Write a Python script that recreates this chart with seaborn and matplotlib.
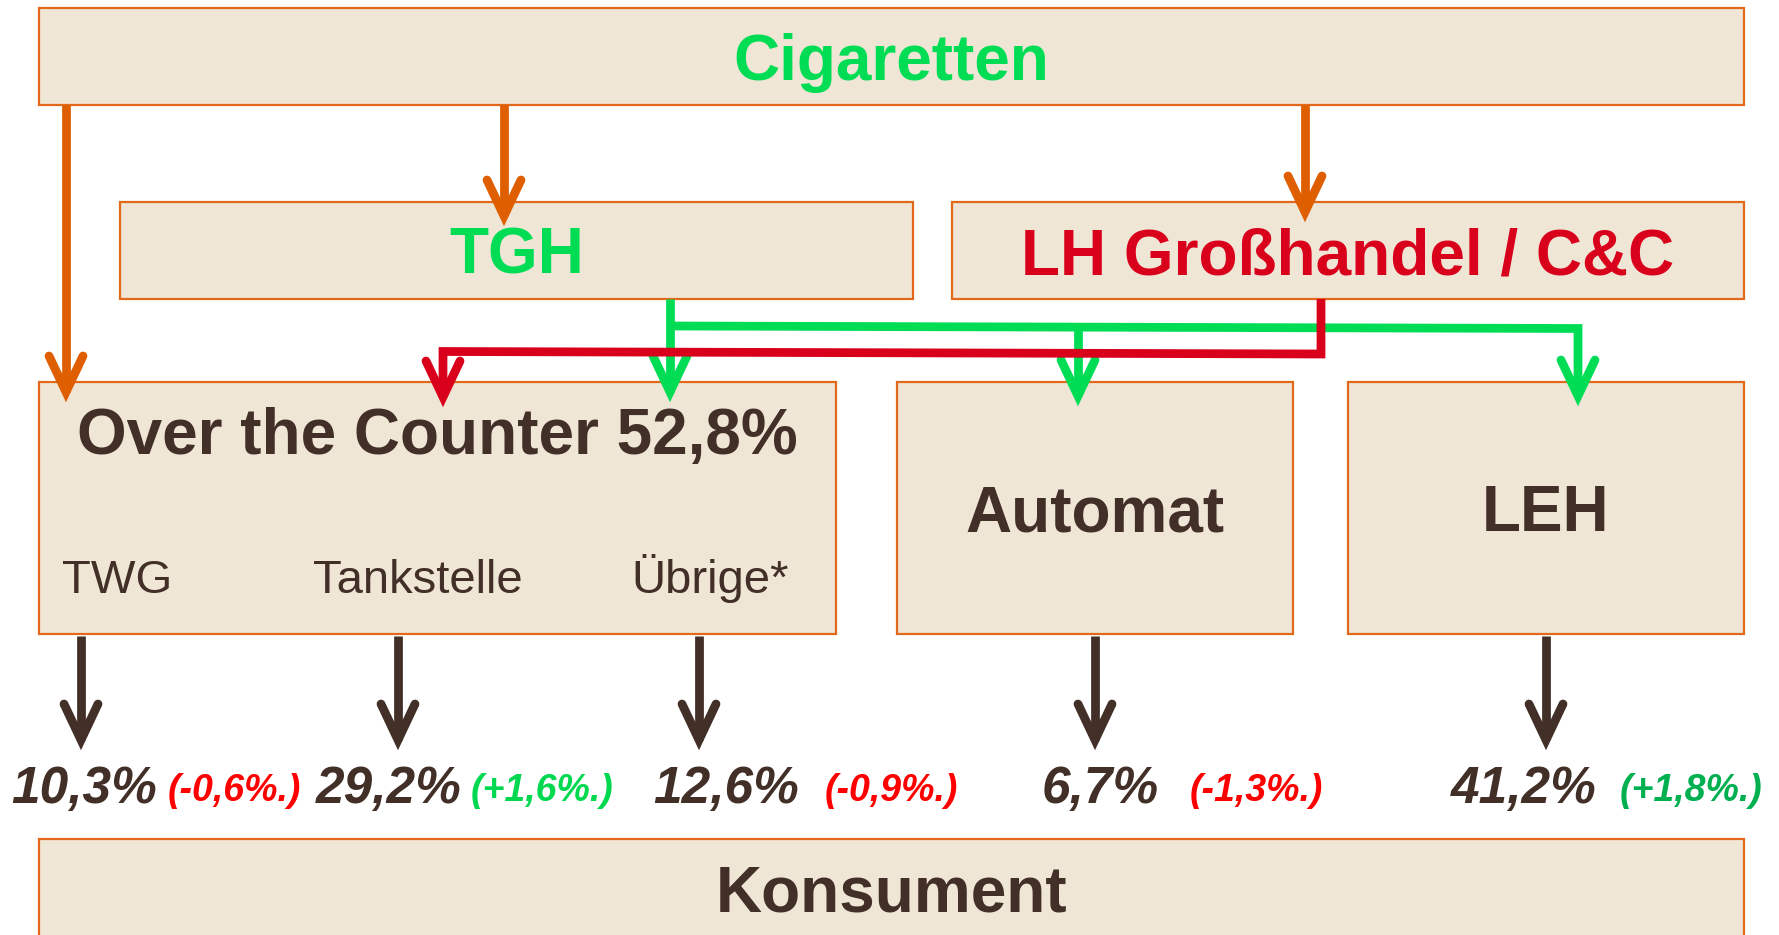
import numpy as np
import pandas as pd
import seaborn as sns
import matplotlib.pyplot as plt
from matplotlib.patches import Rectangle
from matplotlib import font_manager

# data
top_node = "Cigaretten"
wholesalers = ["TGH", "LH Großhandel / C&C"]
channels = ["Over the Counter", "Automat", "LEH"]
otc_share = 52.8
otc_subchannels = ["TWG", "Tankstelle", "Übrige*"]
end_node = "Konsument"
outlets = ["TWG", "Tankstelle", "Übrige*", "Automat", "LEH"]
shares = [10.3, 29.2, 12.6, 6.7, 41.2]
changes = [-0.6, 1.6, -0.9, -1.3, 1.8]

# colours
BOX_FC = "#F0E6D6"
BOX_EC = "#E2681A"
ORANGE = "#DF5E00"
GREEN = "#00DD55"
RED = "#D9001B"
BROWN = "#422F28"
change_colors = ["#FF0000", "#00D84F", "#FF0000", "#FF0000", "#00B050"]

def de(v, fmt="{:.1f}"):
    return fmt.format(v).replace(".", ",")

sns.set_theme(style="white")
plt.rcParams['font.family'] = ['Liberation Sans', 'DejaVu Sans']

# narrow face for the change labels if it is there
installed = {f.name for f in font_manager.fontManager.ttflist}
if "Liberation Sans Narrow" in installed:
    change_font = dict(family=["Liberation Sans Narrow", "Liberation Sans"], fontsize=30)
else:
    change_font = dict(family=["Liberation Sans", "DejaVu Sans"], fontsize=27)

fig = plt.figure(figsize=(17.79, 9.35), dpi=100)
ax = fig.add_axes([0, 0, 1, 1])
ax.set_xlim(0, 1779)
ax.set_ylim(935, 0)
ax.axis("off")

# boxes: x0, y0, x1, y1 in pixel space
boxes = {
    "top": (39, 8, 1744, 105),
    "TGH": (120, 202, 913, 299),
    "LH": (952, 202, 1744, 299),
    "OTC": (39, 382, 836, 634),
    "Automat": (897, 382, 1293, 634),
    "LEH": (1348, 382, 1744, 634),
    "end": (39, 839, 1744, 960),
}
for b in boxes.values():
    ax.add_patch(Rectangle((b[0], b[1]), b[2] - b[0], b[3] - b[1],
                           fc=BOX_FC, ec=BOX_EC, lw=1.6, zorder=1))

def cx(key):
    b = boxes[key]
    return (b[0] + b[2]) / 2

big = dict(fontsize=46, fontweight="bold", ha="center", va="baseline", zorder=5)
ax.text(cx("top"), 80, top_node, color=GREEN, **big)
ax.text(cx("TGH"), 274, wholesalers[0], color=GREEN, **big)
ax.text(cx("LH"), 274, wholesalers[1], color=RED, **big)
ax.text(cx("OTC"), 454, f"{channels[0]} {de(otc_share)}%", color=BROWN, **big)
ax.text(cx("Automat"), 531, channels[1], color=BROWN, **big)
ax.text(cx("LEH"), 531, channels[2], color=BROWN, **big)
ax.text(cx("end"), 911, end_node, color=BROWN, **big)

sub_x = [62, 313, 631]
for lab, x in zip(otc_subchannels, sub_x):
    ax.text(x, 593, lab, fontsize=34, color=BROWN, ha="left", va="baseline", zorder=5)

# connectors
LW = 6.3

def path(pts, color, head=True, z=3):
    pts = np.array(pts, dtype=float)
    if head:
        x, y = pts[-1]
        pts[-1] = (x, y - 8)
    ax.plot(pts[:, 0], pts[:, 1], color=color, lw=LW, solid_joinstyle="miter",
            solid_capstyle="butt", zorder=z)
    if head:
        x, y = pts[-1]
        ax.plot([x - 17, x, x + 17], [y - 36, y, y - 36], color=color, lw=LW,
                solid_joinstyle="miter", solid_capstyle="round", zorder=z)

path([(66, 105), (66, 400)], ORANGE)
path([(504, 105), (504, 224)], ORANGE)
path([(1305, 105), (1305, 220)], ORANGE)

path([(670, 299), (670, 400)], GREEN)
path([(670, 326), (1578, 328.5), (1578, 404)], GREEN)
path([(1078, 327), (1078, 404)], GREEN)

path([(1321, 299), (1321, 354), (443, 351.5), (443, 405)], RED, z=4)

out_x = [81, 398, 699, 1095, 1546]
for x in out_x:
    path([(x, 636), (x, 748)], BROWN)

# shares and changes
share_x = [11, 316, 653, 1042, 1451]
change_x = [168, 471, 825, 1190, 1620]
for s, c, col, sx, chx in zip(shares, changes, change_colors, share_x, change_x):
    ax.text(sx, 803, de(s) + "%", fontsize=37, fontweight="bold", fontstyle="italic",
            color=BROWN, ha="left", va="baseline", zorder=5)
    ax.text(chx, 801, "(" + de(c, "{:+.1f}") + "%.)", fontweight="bold",
            fontstyle="italic", color=col, ha="left", va="baseline", zorder=5,
            **change_font)

fig.savefig("out.png", dpi=100, facecolor="white")
